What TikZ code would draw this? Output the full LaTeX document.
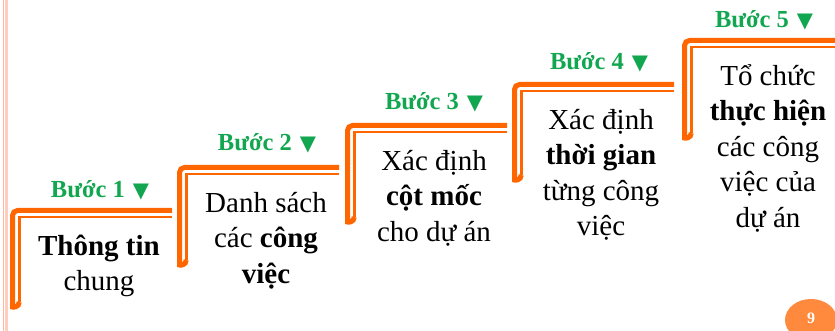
\documentclass[tikz,border=0pt]{standalone}
\usepackage{fontspec}
\setmainfont{Liberation Serif}
\newfontfamily\symfont{DejaVu Sans}
\definecolor{stepor}{RGB}{255,102,0}
\definecolor{stepgreen}{RGB}{18,166,80}
\definecolor{pinkA}{RGB}{255,185,163}
\definecolor{pinkB}{RGB}{255,205,190}
\definecolor{pagecol}{RGB}{255,138,61}
\newcommand\stairbracket[4]{% X Y R B
  \draw[outerline] (#3,#2+2.5) -- (#1+2.5,#2+2.5) -- (#1+2.5,#4-4)
     .. controls (#1+2.5,#4+1.5) and (#1+9.25,#4+1.5) .. (#1+9.25,#4-4);
  \draw[innerline] (#3,#2+9.25) -- (#1+9.25,#2+9.25) -- (#1+9.25,#4-4);
}
\newcommand\tri{\hspace{8pt}{\symfont\fontsize{21}{21}\selectfont ▼}}
\begin{document}
\begin{tikzpicture}[x=1pt,y=-1pt,
  outerline/.style={draw=stepor,line width=5pt,rounded corners=5pt},
  innerline/.style={draw=stepor,line width=2.5pt},
  steplabel/.style={text=stepgreen,font=\fontsize{24.5}{27}\selectfont\bfseries,inner sep=0pt},
  body/.style={font=\fontsize{29}{35.5}\selectfont,align=center,anchor=north,inner sep=0pt}]
\useasboundingbox (0,0) rectangle (835,331);
\fill[white] (0,0) rectangle (835,331);
\fill[pinkA] (2.8,0) rectangle (4,331);
\fill[pinkB] (5,0) rectangle (8.3,331);

\stairbracket{10}{208}{172}{306}
\stairbracket{177}{165}{339}{264}
\stairbracket{345}{123}{507}{221}
\stairbracket{512}{82}{674}{179}
\stairbracket{682}{38}{840}{137}

\node[steplabel] (lab1) at (100,190) {Bước 1\tri};
\node[steplabel] (lab2) at (267,143) {Bước 2\tri};
\node[steplabel] (lab3) at (434,102) {Bước 3\tri};
\node[steplabel] (lab4) at (599,62) {Bước 4\tri};
\node[steplabel] (lab5) at (764,20) {Bước 5\tri};

\node[body] (txt1) at (99,230) {\strut\textbf{Thông tin}\\chung};
\node[body] (txt2) at (266,187) {\strut Danh sách\\các \textbf{công}\\\textbf{việc}};
\node[body] (txt3) at (434,145) {\strut Xác định\\\textbf{cột mốc}\\cho dự án};
\node[body] (txt4) at (601,104) {\strut Xác định\\\textbf{thời gian}\\từng công\\việc};
\node[body] (txt5) at (768,60) {\strut Tổ chức\\\textbf{thực hiện}\\các công\\việc của\\dự án};

\begin{scope}
  \clip (0,0) rectangle (835,331);
  \fill[pagecol] (811,320) ellipse [x radius=26pt, y radius=21pt];
\end{scope}
\node[text=white,font=\fontsize{16}{16}\selectfont\bfseries,inner sep=0pt] (pg) at (811,318) {9};
\end{tikzpicture}
\end{document}
